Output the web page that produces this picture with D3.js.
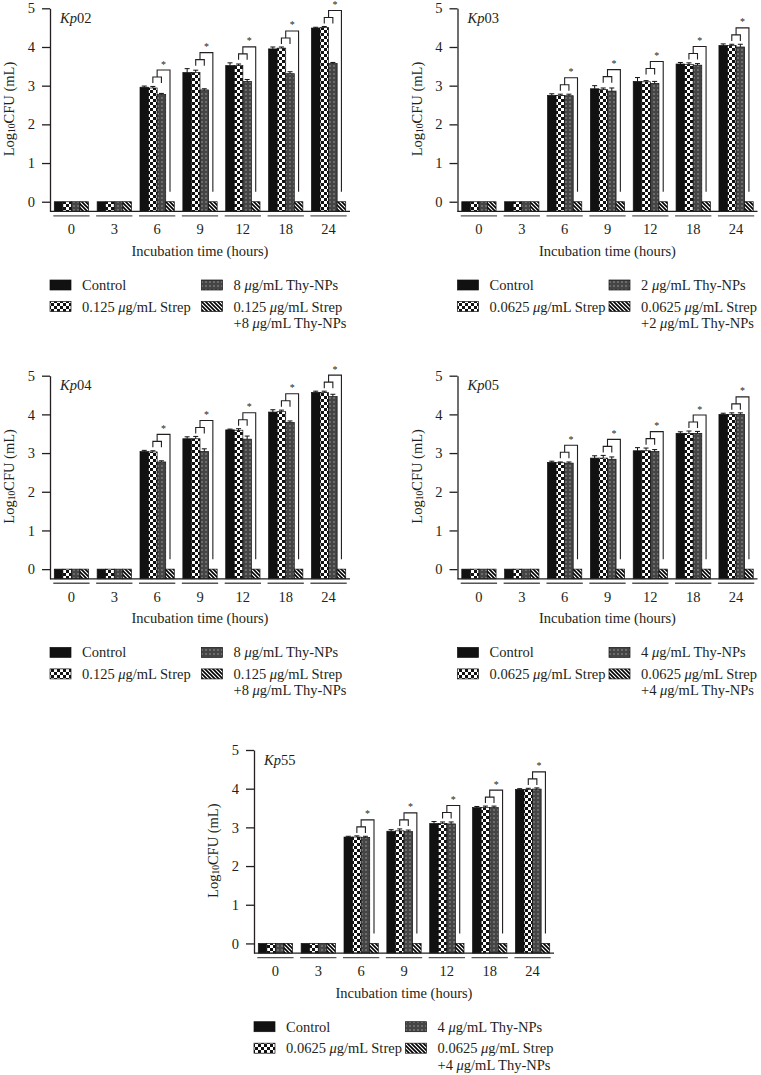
<!DOCTYPE html>
<html><head><meta charset="utf-8">
<script src="https://cdn.jsdelivr.net/npm/d3@7"></script>
<style>
body{margin:0;background:#fff}
text{font-family:"Liberation Serif","Times New Roman",serif;fill:#231f20}
</style>
</head><body>
<svg id="chart" width="761" height="1075"></svg>
<script>
// ---------- data ----------
const hours = ["0","3","6","9","12","18","24"];
const seriesKeys = ["control","strep","thy","combo"];
const yTicks = [0,1,2,3,4,5];
const sigHours = ["6","9","12","18","24"];

const kp02Control = [0,0,2.96,3.34,3.52,3.95,4.49];
const kp02Strep   = [0,0,2.94,3.34,3.52,3.97,4.50];
const kp02Thy     = [0,0,2.77,2.89,3.11,3.31,3.57];
const kp02Combo   = [0,0,0,0,0,0,0];
const kp02ControlErr = [0,0,0.03,0.10,0.07,0.05,0.02];
const kp02StrepErr   = [0,0,0.04,0.06,0.04,0.03,0.03];
const kp02ThyErr     = [0,0,0.03,0.03,0.05,0.05,0.03];

const kp03Control = [0,0,2.75,2.92,3.11,3.56,4.04];
const kp03Strep   = [0,0,2.75,2.90,3.10,3.55,4.04];
const kp03Thy     = [0,0,2.74,2.86,3.06,3.53,4.00];
const kp03Combo   = [0,0,0,0,0,0,0];
const kp03ControlErr = [0,0,0.04,0.08,0.10,0.04,0.04];
const kp03StrepErr   = [0,0,0.03,0.04,0.03,0.04,0.03];
const kp03ThyErr     = [0,0,0.04,0.08,0.05,0.04,0.07];

const kp04Control = [0,0,3.04,3.37,3.60,4.06,4.57];
const kp04Strep   = [0,0,3.03,3.37,3.59,4.07,4.57];
const kp04Thy     = [0,0,2.77,3.04,3.36,3.79,4.46];
const kp04Combo   = [0,0,0,0,0,0,0];
const kp04ControlErr = [0,0,0.03,0.05,0.02,0.06,0.03];
const kp04StrepErr   = [0,0,0.03,0.06,0.04,0.04,0.03];
const kp04ThyErr     = [0,0,0.03,0.07,0.08,0.04,0.06];

const kp05Control = [0,0,2.76,2.87,3.06,3.51,4.00];
const kp05Strep   = [0,0,2.75,2.87,3.06,3.51,4.00];
const kp05Thy     = [0,0,2.74,2.84,3.04,3.51,4.00];
const kp05Combo   = [0,0,0,0,0,0,0];
const kp05ControlErr = [0,0,0.03,0.06,0.08,0.04,0.03];
const kp05StrepErr   = [0,0,0.02,0.07,0.07,0.06,0.04];
const kp05ThyErr     = [0,0,0.03,0.06,0.05,0.05,0.04];

const kp55Control = [0,0,2.75,2.90,3.10,3.51,3.98];
const kp55Strep   = [0,0,2.75,2.91,3.10,3.51,3.98];
const kp55Thy     = [0,0,2.74,2.89,3.09,3.51,3.99];
const kp55Combo   = [0,0,0,0,0,0,0];
const kp55ControlErr = [0,0,0.02,0.04,0.05,0.03,0.02];
const kp55StrepErr   = [0,0,0.03,0.05,0.04,0.04,0.03];
const kp55ThyErr     = [0,0,0.03,0.04,0.05,0.04,0.03];

const panelTitles = ["02","03","04","05","55"];
const strepDoses = ["0.125","0.0625","0.125","0.0625","0.0625"];
const thyDoses   = ["8","2","8","4","4"];

// ---------- drawing ----------
const svg = d3.select("#chart");
const defs = svg.append("defs");

const pc = defs.append("pattern").attr("id","checker").attr("patternUnits","userSpaceOnUse")
  .attr("width",6).attr("height",6);
pc.append("rect").attr("width",6).attr("height",6).attr("fill","#fff");
pc.append("rect").attr("width",3).attr("height",3).attr("fill","#111");
pc.append("rect").attr("x",3).attr("y",3).attr("width",3).attr("height",3).attr("fill","#111");
const pd = defs.append("pattern").attr("id","dots").attr("patternUnits","userSpaceOnUse")
  .attr("width",4).attr("height",4);
pd.append("rect").attr("width",4).attr("height",4).attr("fill","#454545");
pd.append("rect").attr("x",1.5).attr("y",1.5).attr("width",1).attr("height",1).attr("fill","#e0e0e0");
const ph = defs.append("pattern").attr("id","hatch").attr("patternUnits","userSpaceOnUse")
  .attr("width",4).attr("height",4);
ph.append("rect").attr("width",4).attr("height",4).attr("fill","#fff");
ph.append("path").attr("d","M-1,-1L5,5M-1,3L1,5M3,-1L5,1").attr("stroke","#000").attr("stroke-width",1.6);

const fills = {control:"#111", strep:"url(#checker)", thy:"url(#dots)", combo:"url(#hatch)"};
const ink = "#231f20";
const fs = 14.5;

function muText(sel, parts){
  parts.forEach(p=>{
    sel.append("tspan").attr("font-style", p[1] ? "italic" : null).text(p[0]);
  });
}

function panel(ox, oy, idx, vals, errs){
  const g = svg.append("g");
  const axisX = ox + 50;
  const x = d3.scaleBand().domain(hours).range([axisX, axisX + 300]).paddingInner(0.2).paddingOuter(0.1);
  const xs = d3.scaleBand().domain(seriesKeys).range([0, x.bandwidth()]);
  const y = d3.scaleLinear().domain([-0.25, 5]).range([oy + 211.4, oy + 8.3]);

  seriesKeys.forEach((k, si) => {
    g.selectAll(null).data(hours).enter().append("rect")
      .attr("x", h => x(h) + xs(k))
      .attr("y", (h,i) => y(vals[si][i]))
      .attr("width", xs.bandwidth())
      .attr("height", (h,i) => y(-0.25) - y(vals[si][i]))
      .attr("fill", fills[k])
      .attr("stroke", "#111").attr("stroke-width", 0.7);
  });
  seriesKeys.slice(0,3).forEach((k, si) => {
    hours.forEach((h,i) => {
      const e = errs[si][i];
      if (!e) return;
      const cx = x(h) + xs(k) + xs.bandwidth()/2;
      g.append("line").attr("x1",cx).attr("x2",cx).attr("y1",y(vals[si][i])).attr("y2",y(vals[si][i]+e))
        .attr("stroke","#111").attr("stroke-width",1);
      g.append("line").attr("x1",cx-2.5).attr("x2",cx+2.5).attr("y1",y(vals[si][i]+e)).attr("y2",y(vals[si][i]+e))
        .attr("stroke","#111").attr("stroke-width",1);
    });
  });
  sigHours.forEach(h => {
    const i = hours.indexOf(h);
    const top = d3.min([0,1,2], si => y(vals[si][i] + errs[si][i]));
    const c2 = x(h) + xs("strep") + xs.bandwidth()/2;
    const c3 = x(h) + xs("thy") + xs.bandwidth()/2;
    const c4 = x(h) + xs("combo") + xs.bandwidth()/2;
    const mid = (c2 + c3)/2;
    const ys = top - 9, yl = top - 16;
    const y4 = y(vals[3][i]) - 10;
    g.append("path").attr("fill","none").attr("stroke",ink).attr("stroke-width",1.1)
      .attr("d",`M${c2},${ys+6}V${ys}H${c3}V${ys+6}M${mid},${ys}V${yl}H${c4}V${y4}`);
    g.append("text").attr("x",(mid+c4)/2).attr("y",yl-2.5).attr("text-anchor","middle")
      .attr("font-size",10).text("*");
  });

  const ya = g.append("g").attr("transform",`translate(${axisX},0)`)
    .call(d3.axisLeft(y).tickValues(yTicks).tickSize(8).tickSizeOuter(0).tickPadding(7).tickFormat(d3.format("d")));
  ya.selectAll("path,line").attr("stroke",ink).attr("stroke-width",1.3);
  ya.selectAll("text").attr("font-size",fs).attr("font-family",'"Liberation Serif",serif').attr("fill",ink);
  g.append("line").attr("x1",axisX).attr("x2",axisX+300).attr("y1",y(-0.25)).attr("y2",y(-0.25))
    .attr("stroke",ink).attr("stroke-width",1.3);
  g.selectAll(null).data(hours).enter().append("line")
    .attr("x1",h=>x(h)-1).attr("x2",h=>x(h)+x.bandwidth()+1)
    .attr("y1",y(-0.25)+4.5).attr("y2",y(-0.25)+4.5)
    .attr("stroke","#555").attr("stroke-width",1.4);
  const xa = g.append("g").attr("transform",`translate(0,${y(-0.25)+8.5})`)
    .call(d3.axisBottom(x).tickSize(0).tickPadding(4));
  xa.select(".domain").remove();
  xa.selectAll("text").attr("font-size",fs).attr("font-family",'"Liberation Serif",serif').attr("fill",ink);

  const t = g.append("text").attr("x",axisX+10).attr("y",oy+23).attr("font-size",fs);
  t.append("tspan").attr("font-style","italic").text("Kp");
  t.append("tspan").text(panelTitles[idx]);
  g.append("text").attr("x",axisX+150).attr("y",oy+256).attr("text-anchor","middle")
    .attr("font-size",fs).text("Incubation time (hours)");
  const yl = g.append("text").attr("transform",`translate(${axisX-41},${oy+109}) rotate(-90)`)
    .attr("text-anchor","middle").attr("dominant-baseline","central").attr("font-size",fs);
  yl.append("tspan").text("Log");
  yl.append("tspan").attr("font-size",9.5).attr("dy",3).text("10");
  yl.append("tspan").attr("dy",-3).text("CFU (mL)");

  const r1 = oy + 285, r2 = oy + 306.5, r3 = oy + 323;
  const items = [
    {k:"control", sx:axisX, ty:r1, lines:[[["Control",false]]]},
    {k:"strep", sx:axisX, ty:r2, lines:[[[strepDoses[idx]+" ",false],["μ",true],["g/mL Strep",false]]]},
    {k:"thy", sx:axisX+151.5, ty:r1, lines:[[[thyDoses[idx]+" ",false],["μ",true],["g/mL Thy-NPs",false]]]},
    {k:"combo", sx:axisX+151.5, ty:r2, lines:[[[strepDoses[idx]+" ",false],["μ",true],["g/mL Strep",false]],
                                             [["+"+thyDoses[idx]+" ",false],["μ",true],["g/mL Thy-NPs",false]]]}
  ];
  items.forEach(it => {
    g.append("rect").attr("x",it.sx).attr("y",it.ty-5).attr("width",21).attr("height",10)
      .attr("fill",fills[it.k]).attr("stroke","#111").attr("stroke-width",0.7);
    it.lines.forEach((ln, li) => {
      const tt = g.append("text").attr("x",it.sx+32).attr("y",(li===0?it.ty:r3)+5).attr("font-size",fs);
      muText(tt, ln);
    });
  });
}

panel(0, 0, 0, [kp02Control,kp02Strep,kp02Thy,kp02Combo], [kp02ControlErr,kp02StrepErr,kp02ThyErr,kp02Combo]);
panel(407.5, 0, 1, [kp03Control,kp03Strep,kp03Thy,kp03Combo], [kp03ControlErr,kp03StrepErr,kp03ThyErr,kp03Combo]);
panel(0, 367.4, 2, [kp04Control,kp04Strep,kp04Thy,kp04Combo], [kp04ControlErr,kp04StrepErr,kp04ThyErr,kp04Combo]);
panel(407.5, 367.4, 3, [kp05Control,kp05Strep,kp05Thy,kp05Combo], [kp05ControlErr,kp05StrepErr,kp05ThyErr,kp05Combo]);
panel(204, 741.7, 4, [kp55Control,kp55Strep,kp55Thy,kp55Combo], [kp55ControlErr,kp55StrepErr,kp55ThyErr,kp55Combo]);
</script>
</body></html>
